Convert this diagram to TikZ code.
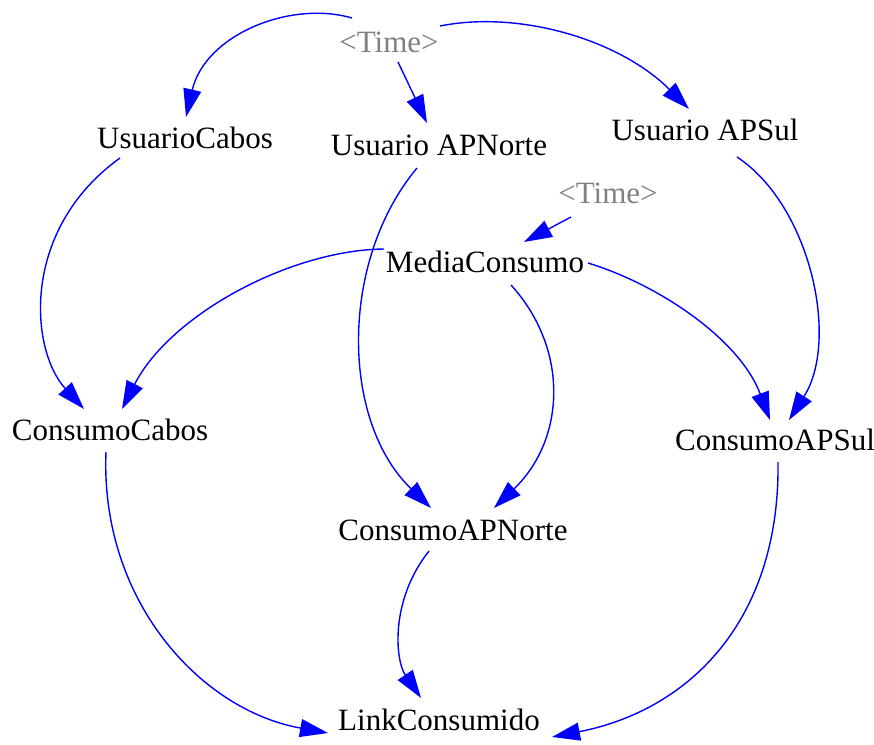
\documentclass[tikz,border=0pt]{standalone}
\usepackage{fontspec}
\setmainfont{Liberation Serif}
\usetikzlibrary{arrows.meta,calc}
\begin{document}
\begin{tikzpicture}[x=1pt,y=-1pt,
  lbl/.style={font=\fontsize{31}{34}\selectfont, inner sep=0pt, anchor=base},
  tm/.style={lbl, text={rgb,255:red,128;green,128;blue,128}},
  edge/.style={draw=blue, line width=1.4pt, -{Triangle[length=28pt,width=18pt]}}]
\useasboundingbox (0,0) rectangle (874,744);
\node[tm]  (t1) at (389,52)  {<Time>};
\node[lbl] (uc) at (185,148) {UsuarioCabos};
\node[lbl] (un) at (439,155) {Usuario APNorte};
\node[lbl] (us) at (705,140) {Usuario APSul};
\node[tm]  (t2) at (608,203) {<Time>};
\node[lbl] (mc) at (485,272) {MediaConsumo};
\node[lbl] (cc) at (110,440) {ConsumoCabos};
\node[lbl] (cs) at (775,450) {ConsumoAPSul};
\node[lbl] (cn) at (453,540) {ConsumoAPNorte};
\node[lbl] (lc) at (439,730) {LinkConsumido};

\draw[edge] ($(t1.base)+(-37,-34)$) .. controls (290,0) and (205,35) .. ($(uc.base)+(1,-31)$);
\draw[edge] ($(t1.base)+(9,10)$) -- ($(un.base)+(-12,-32)$);
\draw[edge] ($(t1.base)+(51,-26)$) .. controls (520,10) and (620,40) .. ($(us.base)+(-16,-31)$);
\draw[edge] ($(t2.base)+(-37,14)$) -- ($(mc.base)+(39,-30)$);
\draw[edge] ($(uc.base)+(-65,10)$) .. controls (20,230) and (30,350) .. ($(cc.base)+(-26,-31)$);
\draw[edge] ($(mc.base)+(-101,-23)$) .. controls (290,250) and (170,315) .. ($(cc.base)+(12,-31)$);
\draw[edge] ($(un.base)+(-22,13)$) .. controls (340,260) and (340,420) .. ($(cn.base)+(-22,-32)$);
\draw[edge] ($(mc.base)+(26,13)$) .. controls (570,350) and (565,440) .. ($(cn.base)+(41,-32)$);
\draw[edge] ($(mc.base)+(103,-9)$) .. controls (660,285) and (740,340) .. ($(cs.base)+(-5,-30)$);
\draw[edge] ($(us.base)+(32,17)$) .. controls (810,205) and (840,340) .. ($(cs.base)+(14,-30)$);
\draw[edge] ($(cc.base)+(-4,12)$) .. controls (100,600) and (200,710) .. ($(lc.base)+(-111,3)$);
\draw[edge] ($(cn.base)+(-24,11)$) .. controls (390,600) and (395,660) .. ($(lc.base)+(-18,-32)$);
\draw[edge] ($(cs.base)+(3,12)$) .. controls (780,620) and (690,710) .. ($(lc.base)+(113,7)$);
\end{tikzpicture}
\end{document}
